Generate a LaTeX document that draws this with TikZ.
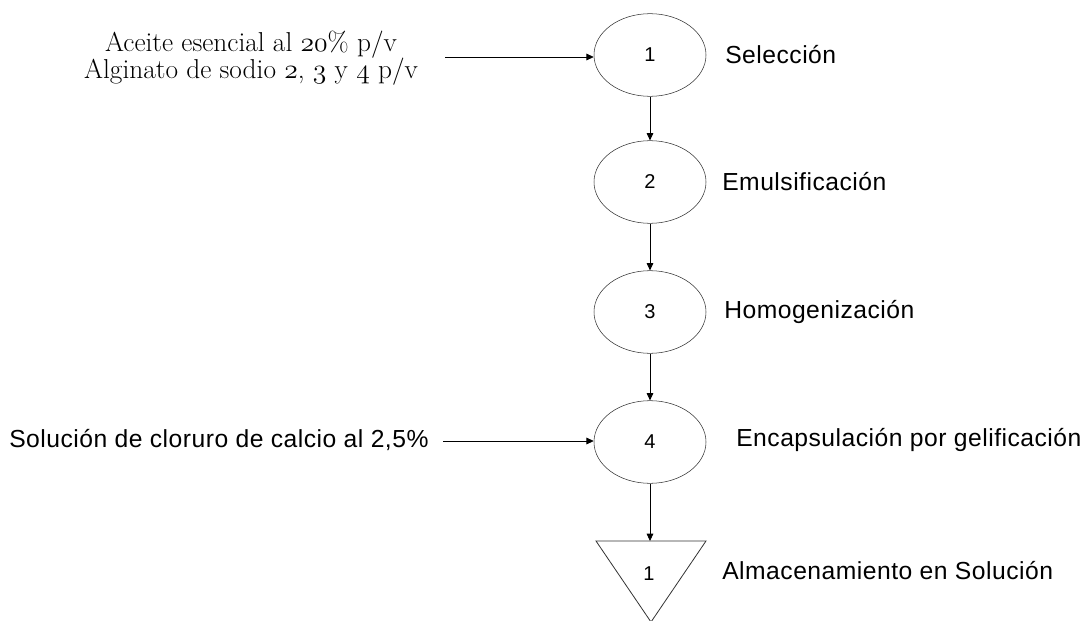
\documentclass[tikz,border=0pt]{standalone}
\usepackage{fontspec}
\newfontfamily\arialfont[LetterSpace=2]{Liberation Sans}
\newfontfamily\numfont{Liberation Sans}
\newcommand{\vieja}[1]{{\usefont{OML}{cmm}{m}{it}#1}}
\usetikzlibrary{shapes.geometric,arrows.meta}

\begin{document}
\begin{tikzpicture}[x=0.75pt,y=0.75pt,yscale=-1,xscale=1,
  paso/.style={draw=black!80,ellipse,minimum width=84pt,minimum height=62pt,inner sep=0pt,font=\numfont\fontsize{15}{17}\selectfont},
  etiqueta/.style={anchor=west,inner sep=0.75pt,font=\arialfont\fontsize{18.5}{22}\selectfont},
  flecha/.style={-{Triangle[length=5.5pt,width=5pt]},line width=0.6pt}]
\useasboundingbox (0,0) rectangle (1083,621);

% Operaciones
\node [paso] (e1) at (650,55) {1};
\node [paso] (e2) at (650,182) {2};
\node [paso] (e3) at (650,312) {3};
\node [paso] (e4) at (650,442) {4};

% Almacenamiento
\draw [draw=black!80,line width=0.6pt] (596,541) -- (706,541) -- (651,622) -- cycle;
\coordinate (alm) at (650,541);
\node [font=\numfont\fontsize{15}{17}\selectfont] (a1) at (649,574) {1};

% Etiquetas
\node [etiqueta] (l1) at (724,55) {Selección};
\node [etiqueta] (l2) at (721,182) {Emulsificación};
\node [etiqueta] (l3) at (723,312) {Homogenización};
\node [etiqueta] (l4) at (735,440) {Encapsulación por gelificación};
\node [etiqueta] (l5) at (721,571) {Almacenamiento en Solución};

% Entradas
\node [align=center,inner sep=0.75pt,font=\fontsize{20.5}{20.5}\selectfont] (in1) at (251,58)
  {Aceite esencial al \vieja{20}\% p/v\\Alginato de sodio \vieja{2}, \vieja{3} y \vieja{4} p/v};
\node [etiqueta] (in4) at (8,440) {Solución de cloruro de calcio al 2,5\%};
\coordinate (f1) at (445,57);
\coordinate (f4) at (443,441);

% Flechas
\draw [flecha] (f1) -- (f1 -| e1.west);
\draw [flecha] (f4) -- (f4 -| e4.west);
\draw [flecha] (e1) -- (e2);
\draw [flecha] (e2) -- (e3);
\draw [flecha] (e3) -- (e4);
\draw [flecha] (e4.south) -- (alm);

\end{tikzpicture}
\end{document}
